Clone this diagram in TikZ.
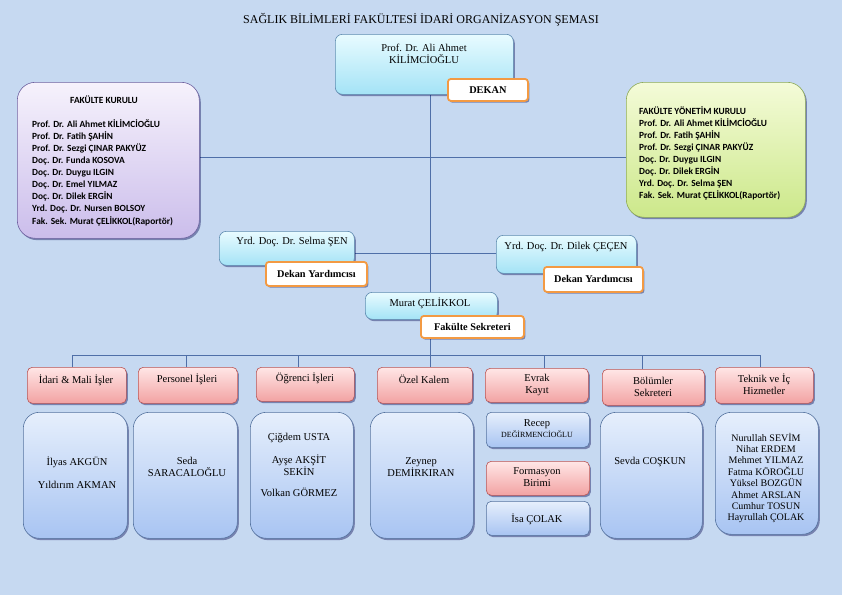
\documentclass[tikz,border=0pt]{standalone}
\usepackage{fontspec}
\setmainfont{Liberation Serif}
\newfontfamily\calib{Carlito}
\usetikzlibrary{shadows}
\definecolor{bgc}{HTML}{C6D9F1}
\definecolor{linec}{HTML}{4F6FA8}
\definecolor{cyanT}{HTML}{E8FBFF}
\definecolor{cyanB}{HTML}{A4E3F6}
\definecolor{cyanD}{HTML}{5E8BB0}
\definecolor{purT}{HTML}{F6F2FC}
\definecolor{purB}{HTML}{CBBDEB}
\definecolor{purD}{HTML}{6E62A0}
\definecolor{grnT}{HTML}{F4FBD8}
\definecolor{grnB}{HTML}{CCE88A}
\definecolor{grnD}{HTML}{8DAA58}
\definecolor{pnkT}{HTML}{FFE6E6}
\definecolor{pnkB}{HTML}{F2A2A2}
\definecolor{pnkD}{HTML}{B85454}
\definecolor{bluT}{HTML}{E6EFFC}
\definecolor{bluB}{HTML}{A8C4F2}
\definecolor{bluD}{HTML}{55739F}
\definecolor{orgD}{HTML}{F39A43}
\pgfdeclarelayer{bgfill}
\pgfdeclarelayer{lines}
\pgfsetlayers{bgfill,lines,main}
\newcommand\mkbox[6]{\node[#1,anchor=north west,minimum width={(#5-#3)*1pt},minimum height={(#6-#4)*1pt},inner sep=0pt] (#2) at (#3,#4) {};}
\begin{document}
\begin{tikzpicture}[x=1pt,y=-1pt,
  shad/.style={drop shadow={shadow xshift=1.5pt,shadow yshift=-1.8pt,opacity=0.4,fill=black!70!blue}},
  cyanbox/.style={draw=cyanD,line width=0.6pt,top color=cyanT,bottom color=cyanB,rounded corners=7pt,shad},
  purbox/.style={draw=purD,line width=0.6pt,top color=purT,bottom color=purB,rounded corners=18pt,shad},
  grnbox/.style={draw=grnD,line width=0.6pt,top color=grnT,bottom color=grnB,rounded corners=18pt,shad},
  pnkbox/.style={draw=pnkD,line width=0.6pt,top color=pnkT,bottom color=pnkB,rounded corners=5pt,shad},
  blubox/.style={draw=bluD,line width=0.6pt,top color=bluT,bottom color=bluB,rounded corners=16pt,shad},
  bluboxs/.style={draw=bluD,line width=0.6pt,top color=bluT,bottom color=bluB,rounded corners=5pt,shad},
  lbl/.style={draw=orgD,line width=1.8pt,fill=white,rounded corners=3pt,shad},
  t/.style={inner sep=0pt,align=center,font=\fontsize{10.5}{12}\selectfont},
  tb/.style={inner sep=0pt,align=center,font=\fontsize{10.3}{12}\selectfont\bfseries},
  ct/.style={inner sep=0pt,align=left,font=\calib\bfseries\fontsize{9.4}{12.1}\selectfont},
  conn/.style={draw=linec,line width=0.7pt}]

\begin{pgfonlayer}{bgfill}
\fill[bgc] (0,0) rectangle (842,595);
\end{pgfonlayer}
\useasboundingbox (0,0) rectangle (842,595);

% title
\node[t,font=\fontsize{12}{14}\selectfont] (title) at (421,20) {SAĞLIK BİLİMLERİ FAKÜLTESİ İDARİ ORGANİZASYON ŞEMASI};

% top
\mkbox{cyanbox}{dekan}{335}{34}{513}{94}
\mkbox{lbl}{dekanlbl}{447}{78}{527}{100}
\node[t] (tdekan) at (424,53.5) {Prof. Dr. Ali Ahmet\\KİLİMCİOĞLU};
\node[tb] (tdekanlbl) at (dekanlbl.center) {DEKAN};

% councils
\mkbox{purbox}{fk}{17}{82}{199}{238}
\node[ct] (tfkT) at (104,100) {FAKÜLTE KURULU};
\node[ct,anchor=west] (tfk) at (32,172.5) {Prof. Dr. Ali Ahmet KİLİMCİOĞLU\\Prof. Dr. Fatih ŞAHİN\\Prof. Dr. Sezgi ÇINAR PAKYÜZ\\Doç. Dr. Funda KOSOVA\\Doç. Dr. Duygu ILGIN\\Doç. Dr. Emel YILMAZ\\Doç. Dr. Dilek ERGİN\\Yrd. Doç. Dr. Nursen BOLSOY\\Fak. Sek. Murat ÇELİKKOL(Raportör)};

\mkbox{grnbox}{fyk}{626}{82}{805}{217}
\node[ct,anchor=west] (tfyk) at (639,153.5) {FAKÜLTE YÖNETİM KURULU\\Prof. Dr. Ali Ahmet KİLİMCİOĞLU\\Prof. Dr. Fatih ŞAHİN\\Prof. Dr. Sezgi ÇINAR PAKYÜZ\\Doç. Dr. Duygu ILGIN\\Doç. Dr. Dilek ERGİN\\Yrd. Doç. Dr. Selma ŞEN\\Fak. Sek. Murat ÇELİKKOL(Raportör)};

% deputies
\mkbox{cyanbox}{selma}{219}{231}{354}{265}
\mkbox{lbl}{selmalbl}{265}{261}{366}{285}
\node[t] (tselma) at (292,242) {Yrd. Doç. Dr. Selma ŞEN};
\node[tb] (tselmalbl) at (selmalbl.center) {Dekan Yardımcısı};

\mkbox{cyanbox}{dilek}{496}{235}{636}{273}
\mkbox{lbl}{dileklbl}{543}{266}{642}{291}
\node[t] (tdilek) at (566,247) {Yrd. Doç. Dr. Dilek ÇEÇEN};
\node[tb] (tdileklbl) at (dileklbl.center) {Dekan Yardımcısı};

\mkbox{cyanbox}{murat}{365}{292}{497}{319}
\mkbox{lbl}{muratlbl}{420}{315}{523}{337}
\node[t] (tmurat) at (430,303) {Murat ÇELİKKOL};
\node[tb] (tmuratlbl) at (muratlbl.center) {Fakülte Sekreteri};

% units
\mkbox{pnkbox}{r1}{27}{367}{126}{403}
\mkbox{pnkbox}{r2}{138}{367}{237}{403}
\mkbox{pnkbox}{r3}{256}{367}{354}{401}
\mkbox{pnkbox}{r4}{377}{367}{472}{403}
\mkbox{pnkbox}{r5}{485}{368}{588}{402}
\mkbox{pnkbox}{r6}{602}{369}{704}{405}
\mkbox{pnkbox}{r7}{715}{367}{813}{403}
\node[t] (tr1) at (76,380) {İdari \& Mali İşler};
\node[t] (tr2) at (187,379) {Personel İşleri};
\node[t] (tr3) at (305,378) {Öğrenci İşleri};
\node[t] (tr4) at (424,379) {Özel Kalem};
\node[t] (tr5) at (537,385) {Evrak\\Kayıt};
\node[t] (tr6) at (653,386.5) {Bölümler\\Sekreteri};
\node[t] (tr7) at (764,384) {Teknik ve İç\\Hizmetler};

% people
\mkbox{blubox}{b1}{23}{412}{127}{538}
\mkbox{blubox}{b2}{133}{412}{237}{538}
\mkbox{blubox}{b3}{250}{412}{353}{538}
\mkbox{blubox}{b4}{370}{412}{473}{538}
\mkbox{bluboxs}{b5a}{486}{412}{589}{447}
\mkbox{pnkbox}{b5b}{486}{461}{589}{495}
\mkbox{bluboxs}{b5c}{486}{501}{589}{535}
\mkbox{blubox}{b6}{600}{412}{702}{538}
\mkbox{blubox}{b7}{715}{412}{818}{534}

\node[t,font=\fontsize{10.5}{23}\selectfont] (tb1) at (77,472.5) {İlyas AKGÜN\\Yıldırım AKMAN};
\node[t] (tb2) at (187,467) {Seda\\SARACALOĞLU};
\node[t] (tb3a) at (299,438) {Çiğdem USTA};
\node[t] (tb3b) at (299,465) {Ayşe AKŞİT\\SEKİN};
\node[t] (tb3c) at (299,492) {Volkan GÖRMEZ};
\node[t] (tb4) at (421,467) {Zeynep\\DEMİRKIRAN};
\node[t,font=\fontsize{10.5}{11}\selectfont] (tb5a) at (537,429) {Recep\\{\fontsize{7.9}{11}\selectfont DEĞİRMENCİOĞLU}};
\node[t] (tb5b) at (537,477) {Formasyon\\Birimi};
\node[t] (tb5c) at (537,519) {İsa ÇOLAK};
\node[t] (tb6) at (650,462) {Sevda COŞKUN};
\node[t,font=\fontsize{10}{11.4}\selectfont] (tb7) at (766,478) {Nurullah SEVİM\\Nihat ERDEM\\Mehmet YILMAZ\\Fatma KÖROĞLU\\Yüksel BOZGÜN\\Ahmet ARSLAN\\Cumhur TOSUN\\Hayrullah ÇOLAK};

% connectors
\coordinate (trunk) at (430,0);
\coordinate (hc) at (0,157);
\coordinate (hd) at (0,253);
\coordinate (busL) at (72,355);
\coordinate (busR) at (760,355);
\coordinate (d2) at (186,355);
\coordinate (d3) at (298,355);
\coordinate (d5) at (544,355);
\coordinate (d6) at (642,355);
\begin{pgfonlayer}{lines}
\draw[conn] (trunk |- dekan.south) -- (trunk |- busL);
\draw[conn] (fk.east |- hc) -- (fyk.west |- hc);
\draw[conn] (selma.east |- hd) -- (dilek.west |- hd);
\draw[conn] (busL) -- (busR);
\draw[conn] (busL) -- (busL |- r1.north);
\draw[conn] (d2) -- (d2 |- r2.north);
\draw[conn] (d3) -- (d3 |- r3.north);
\draw[conn] (trunk |- busL) -- (trunk |- r4.north);
\draw[conn] (d5) -- (d5 |- r5.north);
\draw[conn] (d6) -- (d6 |- r6.north);
\draw[conn] (busR) -- (busR |- r7.north);
\end{pgfonlayer}
\end{tikzpicture}
\end{document}
